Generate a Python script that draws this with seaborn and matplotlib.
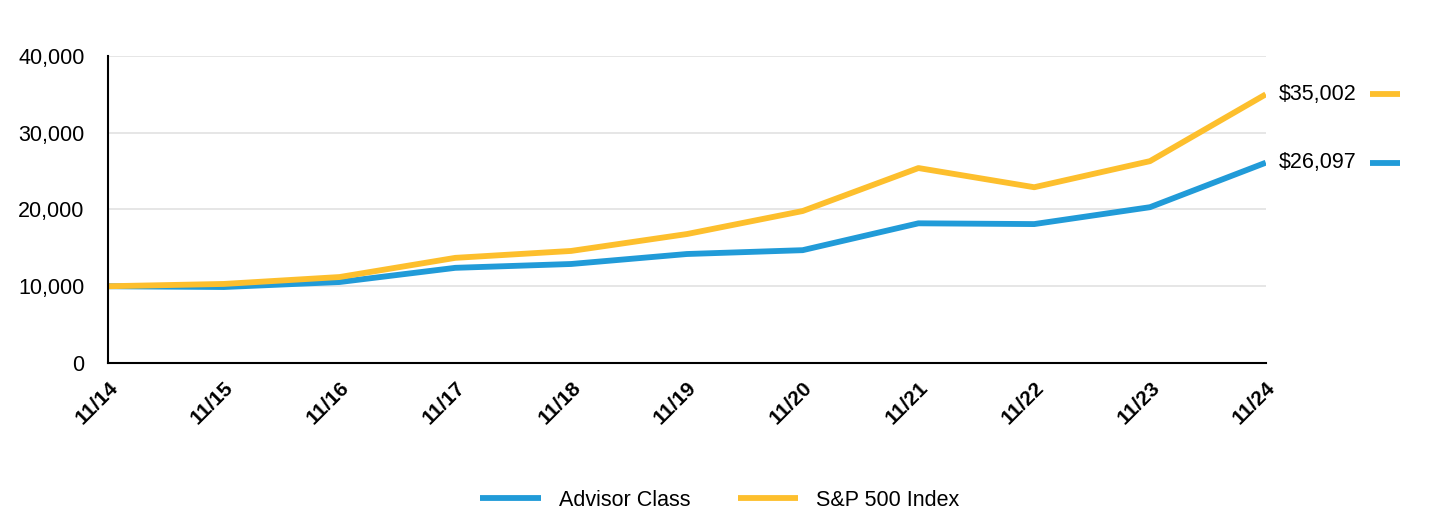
import pandas as pd
import seaborn as sns
import matplotlib.pyplot as plt
from matplotlib.transforms import blended_transform_factory

# values
periods = ["11/14", "11/15", "11/16", "11/17", "11/18", "11/19",
           "11/20", "11/21", "11/22", "11/23", "11/24"]
advisor_class = [10000, 9900, 10550, 12400, 12900, 14200,
                 14700, 18200, 18100, 20300, 26097]
sp500_index = [10000, 10300, 11200, 13700, 14600, 16800,
               19800, 25400, 22900, 26300, 35002]
series_names = ["Advisor Class", "S&P 500 Index"]
end_labels = ["$26,097", "$35,002"]
colors = {"Advisor Class": "#219bd8", "S&P 500 Index": "#fdbf2d"}

sns.set_style("white")
plt.rcParams["font.family"] = ["Liberation Sans", "DejaVu Sans"]
plt.rcParams["text.color"] = "black"
plt.rcParams["xtick.color"] = "black"
plt.rcParams["ytick.color"] = "black"

df = pd.concat([
    pd.DataFrame({"period": periods, "value": advisor_class, "series": series_names[0]}),
    pd.DataFrame({"period": periods, "value": sp500_index, "series": series_names[1]}),
])

fig = plt.figure(figsize=(14.4, 5.16), dpi=100)
ax = fig.add_axes([0.075, 0.2965, 0.804, 0.595])

sns.lineplot(data=df, x="period", y="value", hue="series", palette=colors,
             linewidth=4.2, ax=ax, sort=False)
for ln in ax.get_lines():
    ln.set_solid_capstyle("butt")
    ln.set_solid_joinstyle("round")

ax.set_xlim(0, len(periods) - 1)
ax.set_ylim(0, 40000)
ax.set_yticks([0, 10000, 20000, 30000, 40000])
ax.set_yticklabels([f"{v:,}" for v in [0, 10000, 20000, 30000, 40000]], fontsize=15.5)
ax.set_xticks(range(len(periods)))
ax.set_xticklabels(periods, rotation=45, ha="right", rotation_mode="anchor",
                   fontsize=15, fontweight="bold")
ax.set_xlabel("")
ax.set_ylabel("")

ax.grid(axis="y", color="#e2e2e2", linewidth=1.2)
ax.set_axisbelow(True)
for side in ["top", "right"]:
    ax.spines[side].set_visible(False)
for side in ["left", "bottom"]:
    ax.spines[side].set_color("black")
    ax.spines[side].set_linewidth(1.5)
ax.tick_params(axis="x", length=6, width=1.5, color="black", pad=5)
ax.tick_params(axis="y", length=0, pad=17)

# end value labels with short colour keys
trans = blended_transform_factory(ax.transAxes, ax.transData)
finals = [advisor_class[-1], sp500_index[-1]]
for name, lab, val in zip(series_names, end_labels, finals):
    ax.text(1.011, val, lab, transform=trans, va="center", ha="left",
            fontsize=15.5, clip_on=False)
    ax.plot([1.0898, 1.1157], [val, val], transform=trans, color=colors[name],
            linewidth=4.2, clip_on=False, solid_capstyle="butt")

handles, labels = ax.get_legend_handles_labels()
ax.legend(handles, labels, loc="center", bbox_to_anchor=(0.5, 0.031),
          bbox_transform=fig.transFigure, ncol=2, frameon=False, fontsize=15.5,
          handlelength=2.8, handletextpad=0.85, columnspacing=2.2)

fig.savefig("out.png", dpi=100)
